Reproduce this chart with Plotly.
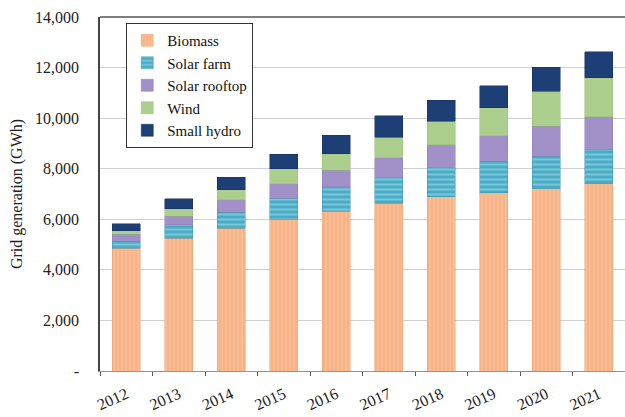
import plotly.graph_objects as go

years = ["2012", "2013", "2014", "2015", "2016", "2017", "2018", "2019", "2020", "2021"]
biomass = [4860, 5250, 5650, 6010, 6310, 6640, 6900, 7040, 7200, 7410]
solar_farm = [280, 530, 620, 830, 970, 1010, 1130, 1250, 1290, 1350]
solar_rooftop = [270, 340, 500, 570, 650, 790, 920, 1020, 1190, 1300]
wind = [130, 290, 400, 580, 660, 810, 920, 1100, 1390, 1540]
small_hydro = [280, 400, 500, 590, 740, 840, 830, 880, 950, 1030]

ytick_vals = [0, 2000, 4000, 6000, 8000, 10000, 12000, 14000]
ytick_text = ["-", "2,000", "4,000", "6,000", "8,000", "10,000", "12,000", "14,000"]

FONT = "Liberation Serif"

fig = go.Figure()
fig.add_bar(x=years, y=biomass, name="Biomass",
            marker=dict(color="#F8B285", line=dict(color="#E8A070", width=0.5),
                        pattern=dict(shape="|", fgcolor="#FDD8BE", bgcolor="#F8B285",
                                     size=4, solidity=0.3, fillmode="overlay")))
fig.add_bar(x=years, y=solar_farm, name="Solar farm",
            marker=dict(color="#4BACC6", line=dict(color="#3C95AE", width=0.5),
                        pattern=dict(shape="-", fgcolor="#A9DFEE", bgcolor="#4BACC6",
                                     size=5, solidity=0.4, fillmode="overlay")))
fig.add_bar(x=years, y=solar_rooftop, name="Solar rooftop",
            marker=dict(color="#A291C8", line=dict(color="#8E7EB6", width=0.5)))
fig.add_bar(x=years, y=wind, name="Wind",
            marker=dict(color="#ADCF8E", line=dict(color="#98BC78", width=0.5)))
fig.add_bar(x=years, y=small_hydro, name="Small hydro",
            marker=dict(color="#1D3F75", line=dict(color="#15305C", width=0.5)))

fig.update_layout(
    width=625, height=417,
    margin=dict(l=100, r=0, t=17, b=46),
    barmode="stack", bargap=0.47,
    plot_bgcolor="white", paper_bgcolor="white",
    font=dict(family=FONT, size=16, color="#222"),
    legend=dict(x=0.05, y=0.983, xanchor="left", yanchor="top",
                traceorder="normal", bordercolor="#333", borderwidth=1,
                bgcolor="white", font=dict(family=FONT, size=15, color="#111"),
                itemwidth=30),
    shapes=[dict(type="line", xref="paper", yref="paper", x0=0, x1=1, y0=1, y1=1,
                 line=dict(color="#555", width=1.5))],
)
fig.update_xaxes(showline=True, linecolor="#8C97A3", linewidth=1,
                 ticks="outside", tickson="boundaries", ticklen=4, tickcolor="#556",
                 tickangle=-24, ticklabelstandoff=7,
                 tickfont=dict(family=FONT, size=16, color="#222"),
                 showgrid=False)
fig.update_yaxes(range=[0, 14000], tickvals=ytick_vals, ticktext=ytick_text,
                 showline=True, linecolor="#444", linewidth=1.5,
                 showgrid=True, gridcolor="#D0D0D0", gridwidth=1,
                 ticks="", zeroline=False, ticklabelstandoff=16,
                 tickfont=dict(family=FONT, size=16, color="#222"),
                 title=dict(text="Grid generation (GWh)", standoff=8,
                            font=dict(family=FONT, size=16, color="#222")))

fig.write_html("out.html")
